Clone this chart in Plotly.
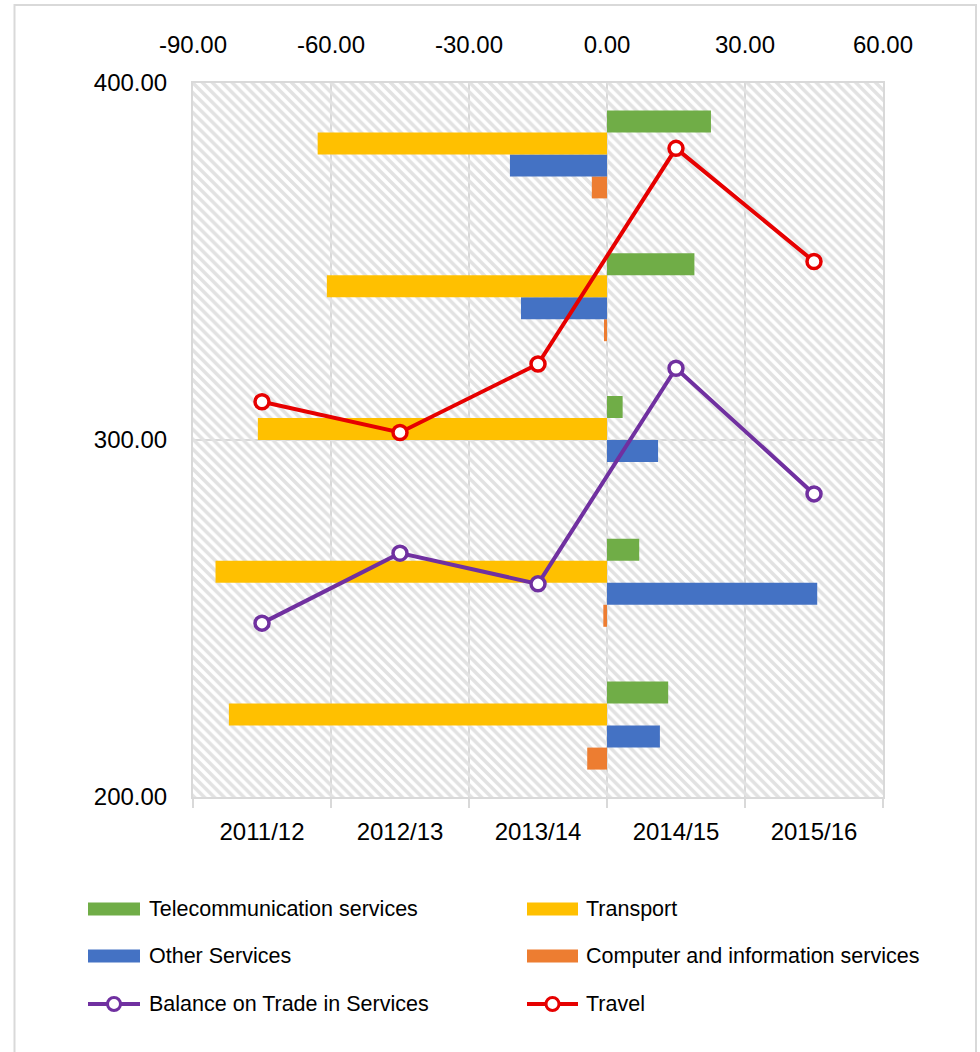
import plotly.graph_objects as go

# ---- data -------------------------------------------------------------
years = ["2011/12", "2012/13", "2013/14", "2014/15", "2015/16"]

# balance by service type (horizontal bars, top value axis)
telecom = [13.3, 7.0, 3.4, 19.0, 22.6]
transport = [-82.2, -85.1, -75.9, -60.9, -62.9]
other_services = [11.5, 45.7, 11.1, -18.7, -21.1]
computer_info = [-4.3, -0.8, 0.0, -0.65, -3.3]

# lines against the left value axis
balance = [248.7, 268.3, 259.7, 320.1, 284.9]
travel = [310.7, 302.1, 321.3, 381.7, 350.0]

value_ticks = [-90, -60, -30, 0, 30, 60]
level_ticks = [200, 300, 400]

# ---- styling ----------------------------------------------------------
GREEN, YELLOW, BLUE, ORANGE = "#70AD47", "#FFC000", "#4472C4", "#ED7D31"
PURPLE, RED = "#7030A0", "#E60000"
GRID = "#d9d9d9"
FONT = "Liberation Sans, Arial, sans-serif"

W, H = 980, 1052
PL, PR, PT, PB = 193, 883, 83, 797  # plot box in pixels


def px(x):
    return (x - PL) / (PR - PL)


def py(y):
    return (PB - y) / (PB - PT)


fig = go.Figure()

# hatched plot-area fill
fig.add_trace(go.Bar(
    x=[value_ticks[-1] - value_ticks[0]], base=[value_ticks[0]], y=[0.5], width=[1],
    orientation="h", xaxis="x", yaxis="y",
    marker=dict(color="rgba(0,0,0,0)", line=dict(width=0),
                pattern=dict(shape="\\", fgcolor="#e2e2e2", bgcolor="rgba(0,0,0,0)",
                             size=7, solidity=0.5, fillmode="replace")),
    hoverinfo="skip", showlegend=False))

# grouped bars: bottom-to-top trace order gives green on top of each group
bar_series = [
    ("Computer and information services", computer_info, ORANGE),
    ("Other Services", other_services, BLUE),
    ("Transport", transport, YELLOW),
    ("Telecommunication services", telecom, GREEN),
]
for name, vals, col in bar_series:
    fig.add_trace(go.Bar(
        name=name, x=vals, y=years, orientation="h",
        xaxis="x", yaxis="y2", marker=dict(color=col, line=dict(width=0)),
        showlegend=False))

# lines
for name, vals, col in [("Balance on Trade in Services", balance, PURPLE),
                        ("Travel", travel, RED)]:
    fig.add_trace(go.Scatter(
        name=name, x=years, y=vals, xaxis="x2", yaxis="y3",
        mode="lines+markers", line=dict(color=col, width=4),
        marker=dict(symbol="circle", size=14, color="white",
                    line=dict(color=col, width=3.5)),
        showlegend=False))

tickfont = dict(family=FONT, size=24, color="#000000")

fig.update_layout(
    width=W, height=H, autosize=False,
    margin=dict(l=PL, r=W - PR, t=PT, b=H - PB, pad=0),
    paper_bgcolor="white", plot_bgcolor="white",
    barmode="group", bargap=0.384, bargroupgap=0,
    xaxis=dict(side="top", range=[value_ticks[0], value_ticks[-1]],
               tickvals=value_ticks, ticktext=[f"{v:.2f}" for v in value_ticks],
               showgrid=True, gridcolor=GRID, gridwidth=2, zeroline=False,
               showline=True, linecolor=GRID, linewidth=2, mirror=True,
               ticks="", tickfont=tickfont, ticklabelstandoff=18),
    yaxis=dict(range=[0, 1], visible=False, showgrid=False),
    yaxis2=dict(type="category", categoryorder="array", categoryarray=years,
                range=[-0.5, len(years) - 0.5], overlaying="y", visible=False),
    xaxis2=dict(type="category", categoryorder="array", categoryarray=years,
                range=[-0.5, len(years) - 0.5], overlaying="x", side="bottom",
                showline=True, linecolor=GRID, linewidth=2, showgrid=False,
                ticks="outside", ticklen=9, tickwidth=2, tickcolor=GRID,
                tickson="boundaries", tickfont=tickfont, ticklabelstandoff=12),
    yaxis3=dict(range=[level_ticks[0], level_ticks[-1]], overlaying="y", side="left",
                tickvals=level_ticks, ticktext=[f"{v:.2f}" for v in level_ticks],
                showgrid=True, gridcolor=GRID, gridwidth=2, zeroline=False,
                showline=True, linecolor=GRID, linewidth=2, mirror=True,
                ticks="", tickfont=tickfont, ticklabelstandoff=19),
)

# chart frame
shapes = [dict(type="rect", xref="paper", yref="paper",
               x0=px(14.5), x1=px(976), y0=py(1070), y1=py(5),
               line=dict(color=GRID, width=2), fillcolor="rgba(0,0,0,0)", layer="below")]
annotations = []

# legend (two columns, three rows)
legend_items = [
    ("Telecommunication services", GREEN, "bar"),
    ("Transport", YELLOW, "bar"),
    ("Other Services", BLUE, "bar"),
    ("Computer and information services", ORANGE, "bar"),
    ("Balance on Trade in Services", PURPLE, "line"),
    ("Travel", RED, "line"),
]
col_x = [(88, 140, 147), (527, 578, 584)]
row_y = [909, 956, 1004]
for i, (label, col, kind) in enumerate(legend_items):
    sx0, sx1, tx = col_x[i % 2]
    yc = row_y[i // 2]
    if kind == "bar":
        shapes.append(dict(type="rect", xref="paper", yref="paper",
                           x0=px(sx0), x1=px(sx1), y0=py(yc + 6.5), y1=py(yc - 6.5),
                           fillcolor=col, line=dict(width=0)))
    else:
        shapes.append(dict(type="line", xref="paper", yref="paper",
                           x0=px(sx0), x1=px(sx1), y0=py(yc), y1=py(yc),
                           line=dict(color=col, width=4)))
        cx = (sx0 + sx1) / 2
        shapes.append(dict(type="circle", xref="paper", yref="paper",
                           x0=px(cx - 6.5), x1=px(cx + 6.5), y0=py(yc + 6.5), y1=py(yc - 6.5),
                           fillcolor="white", line=dict(color=col, width=3)))
    annotations.append(dict(text=label, xref="paper", yref="paper",
                            x=px(tx), y=py(yc), xanchor="left", yanchor="middle",
                            showarrow=False,
                            font=dict(family=FONT, size=21.5, color="#000000")))

fig.update_layout(shapes=shapes, annotations=annotations)

fig.write_html("out.html")
